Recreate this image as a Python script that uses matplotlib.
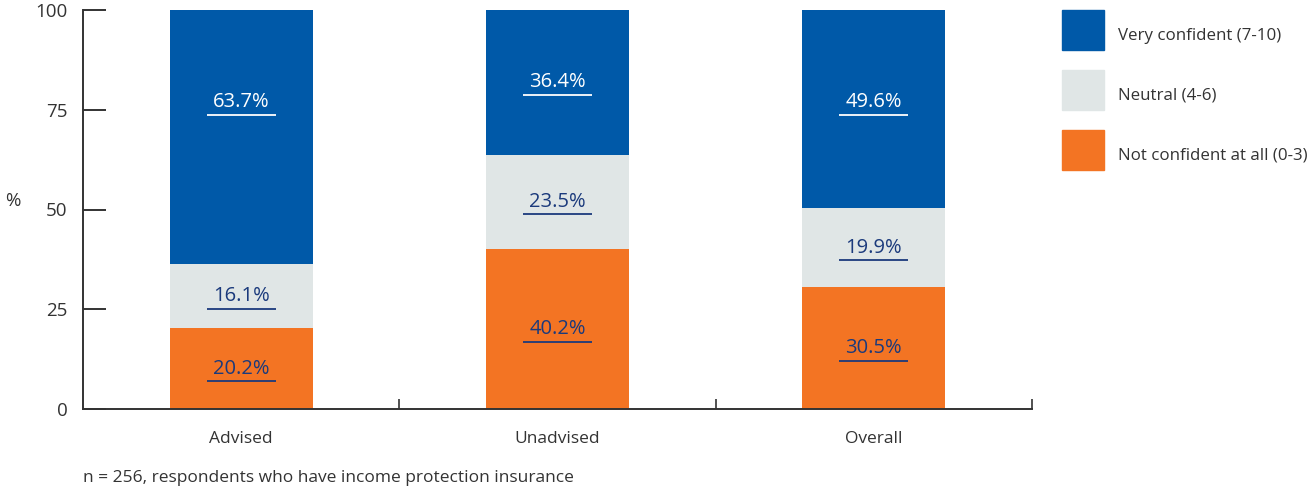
import matplotlib
matplotlib.use("Agg")
import matplotlib.pyplot as plt
from matplotlib.patches import Rectangle
import numpy as np

categories = ["Advised", "Unadvised", "Overall"]
series_names = ["Not confident at all (0-3)", "Neutral (4-6)", "Very confident (7-10)"]
not_confident = [20.2, 40.2, 30.5]
neutral = [16.1, 23.5, 19.9]
very_confident = [63.7, 36.4, 49.6]
y_ticks = [0, 25, 50, 75, 100]
footnote = "n = 256, respondents who have income protection insurance"

colors = ["#F37423", "#E0E6E6", "#0059A8"]
label_colors = ["#1B3A7C", "#1B3A7C", "#FFFFFF"]
axis_color = "#333333"

plt.rcParams["font.family"] = ["Open Sans", "DejaVu Sans"]
plt.rcParams["font.size"] = 13

W, H = 1314, 493
fig = plt.figure(figsize=(W / 100, H / 100), dpi=100)
ax = fig.add_axes([83 / W, 1 - 409 / H, (1032 - 83) / W, (409 - 10) / H])

x = np.arange(len(categories))
width = 0.452
bottoms = np.zeros(len(categories))
for vals, col, lcol, name in zip([not_confident, neutral, very_confident],
                                 colors, label_colors, series_names):
    vals = np.array(vals)
    ax.bar(x, vals, width, bottom=bottoms, color=col, label=name, zorder=2)
    for xi, v, bt in zip(x, vals, bottoms):
        ly = bt + v / 2
        if col == colors[2]:
            # top segment label kept near the top of the bar
            ly = max(ly, 100 - 23)
        ax.text(xi, ly, f"{v:.1f}%", ha="center", va="center",
                color=lcol, fontsize=14.5, zorder=3)
        ax.plot([xi - 0.109, xi + 0.109], [ly - 3.2, ly - 3.2],
                color=lcol, lw=1.3, zorder=3, solid_capstyle="butt")
    bottoms += vals

ax.set_xlim(-0.5, len(categories) - 0.5)
ax.set_ylim(0, 100)
ax.set_yticks(y_ticks)
ax.set_xticks(x)
ax.set_xticklabels(categories)
ax.set_xticks(x + 0.5, minor=True)

for s in ["top", "right"]:
    ax.spines[s].set_visible(False)
for s in ["left", "bottom"]:
    ax.spines[s].set_color(axis_color)
    ax.spines[s].set_linewidth(1.4)

ax.tick_params(axis="y", direction="in", length=16.5, width=1.4,
               color=axis_color, labelcolor=axis_color, pad=11, labelsize=13.5)
ax.tick_params(axis="x", which="major", length=0, pad=16,
               labelcolor=axis_color, labelsize=12.5)
ax.tick_params(axis="x", which="minor", direction="in", length=7,
               width=1.2, color=axis_color)

ax.set_ylabel("%", rotation=0, color=axis_color, fontsize=13.5, labelpad=0)
ax.yaxis.set_label_coords(-0.074, 0.5)

fig.text(83 / W, 1 - 478 / H, footnote, ha="left", va="center",
         color=axis_color, fontsize=12.5)

# legend, top entry first
for i, (name, col) in enumerate(zip(series_names[::-1], colors[::-1])):
    top = 10 + i * 60
    fig.patches.append(Rectangle((1062 / W, 1 - (top + 40) / H), 42 / W, 40 / H,
                                 transform=fig.transFigure, color=col))
    fig.text(1118 / W, 1 - (top + 26) / H, name, ha="left", va="center",
             color=axis_color, fontsize=12.2)

fig.savefig("out.png", dpi=100)
